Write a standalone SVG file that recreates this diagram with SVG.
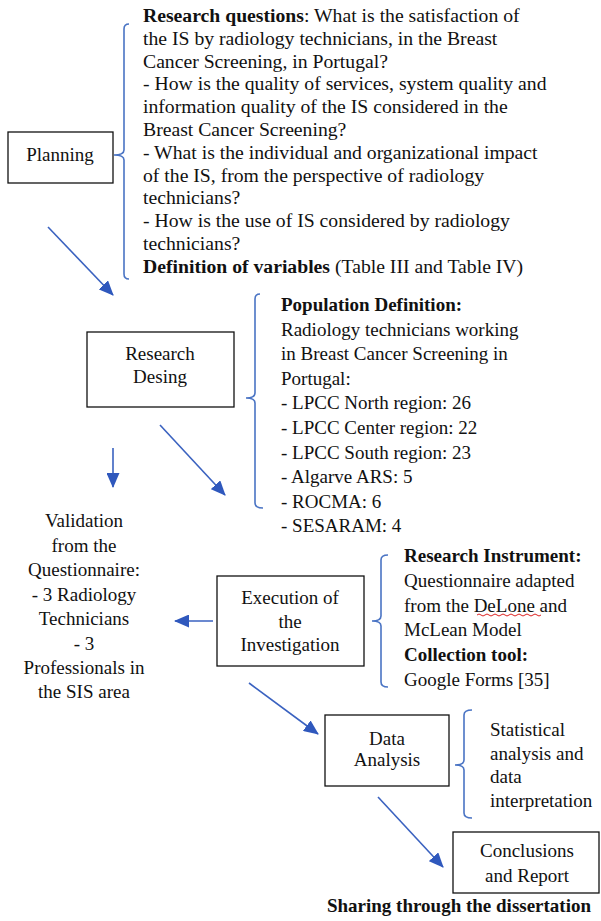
<svg xmlns="http://www.w3.org/2000/svg" width="601" height="921" viewBox="0 0 601 921" font-family="'Liberation Serif', 'DejaVu Serif', serif">
<style>
text{font-family:'Liberation Serif','DejaVu Serif',serif;font-size:19px;fill:#111}
.q{font-size:19.7px}
.c{text-anchor:middle}
.b{font-weight:bold}
.box{fill:#fff;stroke:#111;stroke-width:1.3}
.brace{fill:none;stroke:#4a74c4;stroke-width:1.6}
.arr{stroke:#3a62c0;stroke-width:1.6;fill:none;marker-end:url(#ah)}
</style>
<defs>
<marker id="ah" markerUnits="userSpaceOnUse" markerWidth="15" markerHeight="13" refX="14" refY="6.5" orient="auto">
<path d="M0,0 L15,6.5 L0,13 z" fill="#2f58bd"/>
</marker>
</defs>
<rect width="601" height="921" fill="#fff"/>
<g id="connectors">
<line class="arr" x1="48" y1="227" x2="113" y2="295"/>
<line class="arr" x1="113" y1="448" x2="113" y2="487"/>
<line class="arr" x1="160" y1="425" x2="225" y2="495"/>
<line class="arr" x1="213" y1="621" x2="175" y2="621"/>
<line class="arr" x1="249" y1="683" x2="318" y2="734"/>
<line class="arr" x1="378" y1="797" x2="443" y2="867"/>
</g>
<g id="planning">
<rect class="box" x="8" y="132" width="105" height="51"/>
<text class="c" x="60" y="161">Planning</text>
</g>
<g id="research-questions">
<path class="brace" d="M129,24 Q124,24 124,29 L124,150 Q124,155 114,155 Q124,155 124,160 L124,274 Q124,279 129,279"/>
<text class="q" x="143" y="22"><tspan class="b">Research questions</tspan>: What is the satisfaction of</text>
<text class="q" x="143" y="44.8">the IS by radiology technicians, in the Breast</text>
<text class="q" x="143" y="67.6">Cancer Screening, in Portugal?</text>
<text class="q" x="143" y="90.4">- How is the quality of services, system quality and</text>
<text class="q" x="143" y="113.2">information quality of the IS considered in the</text>
<text class="q" x="143" y="136">Breast Cancer Screening?</text>
<text class="q" x="143" y="158.8">- What is the individual and organizational impact</text>
<text class="q" x="143" y="181.6">of the IS, from the perspective of radiology</text>
<text class="q" x="143" y="204.4">technicians?</text>
<text class="q" x="143" y="227.2">- How is the use of IS considered by radiology</text>
<text class="q" x="143" y="250">technicians?</text>
<text class="q" x="143" y="272.8"><tspan class="b">Definition of variables</tspan> (Table III and Table IV)</text>
</g>
<g id="research-design">
<rect class="box" x="87" y="332" width="147" height="75"/>
<text class="c" x="160" y="360">Research</text>
<text class="c" x="160" y="383">Desing</text>
</g>
<g id="population">
<path class="brace" d="M260,294 Q255,294 255,299 L255,393 Q255,398 246,398 Q255,398 255,403 L255,503 Q255,508 263,508"/>
<text class="b" x="281" y="311">Population Definition:</text>
<text x="281" y="335.6">Radiology technicians working</text>
<text x="281" y="360.2">in Breast Cancer Screening in</text>
<text x="281" y="384.8">Portugal:</text>
<text x="281" y="409.4">- LPCC North region: 26</text>
<text x="281" y="434">- LPCC Center region: 22</text>
<text x="281" y="458.6">- LPCC South region: 23</text>
<text x="281" y="483.2">- Algarve ARS: 5</text>
<text x="281" y="507.8">- ROCMA: 6</text>
<text x="281" y="532.4">- SESARAM: 4</text>
</g>
<g id="validation">
<text class="c" x="84" y="527">Validation</text>
<text class="c" x="84" y="551.5">from the</text>
<text class="c" x="84" y="576">Questionnaire:</text>
<text class="c" x="84" y="600.5">- 3 Radiology</text>
<text class="c" x="84" y="625">Technicians</text>
<text class="c" x="84" y="649.5">- 3</text>
<text class="c" x="84" y="674">Professionals in</text>
<text class="c" x="84" y="698">the SIS area</text>
</g>
<g id="execution">
<rect class="box" x="217" y="576" width="147" height="90"/>
<text class="c" x="290" y="603.5">Execution of</text>
<text class="c" x="290" y="627.5">the</text>
<text class="c" x="290" y="651">Investigation</text>
</g>
<g id="instrument">
<path class="brace" d="M388,555 Q381,555 381,560 L381,616 Q381,621 372,621 Q381,621 381,626 L381,682 Q381,687 388,687"/>
<text class="b" x="404" y="562">Research Instrument:</text>
<text x="404" y="587">Questionnaire adapted</text>
<text x="404" y="612">from the DeLone and</text>
<path d="M477,615 q2,-2 4,0 t4,0 t4,0 t4,0 t4,0 t4,0 t4,0 t4,0 t4,0 t4,0 t4,0 t4,0 t4,0 t4,0 t4,0 t4,0" fill="none" stroke="#d22" stroke-width="1"/>
<text x="404" y="636">McLean Model</text>
<text class="b" x="404" y="661">Collection tool:</text>
<text x="404" y="686">Google Forms [35]</text>
</g>
<g id="data-analysis">
<rect class="box" x="325" y="715" width="124" height="71"/>
<text class="c" x="387" y="745">Data</text>
<text class="c" x="387" y="766">Analysis</text>
</g>
<g id="statistical">
<path class="brace" d="M472,710 Q464,710 464,715 L464,760 Q464,765 455,765 Q464,765 464,770 L464,813 Q464,818 472,818"/>
<text x="490" y="736">Statistical</text>
<text x="490" y="759.5">analysis and</text>
<text x="490" y="783">data</text>
<text x="490" y="806.5">interpretation</text>
</g>
<g id="conclusions">
<rect class="box" x="453" y="832" width="146" height="61"/>
<text class="c" x="527" y="857">Conclusions</text>
<text class="c" x="527" y="882">and Report</text>
</g>
<g id="sharing">
<text class="b c" x="459" y="912">Sharing through the dissertation</text>
</g>
</svg>
